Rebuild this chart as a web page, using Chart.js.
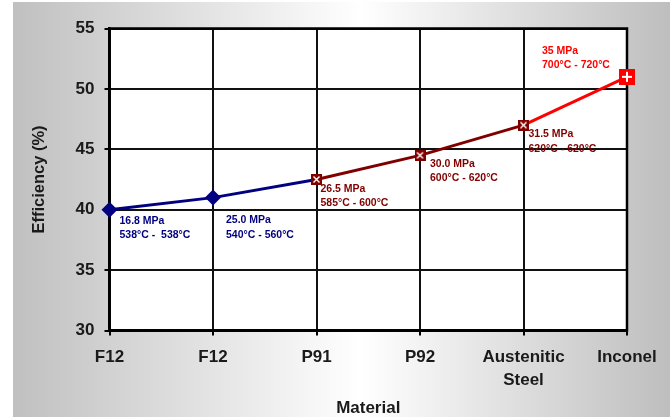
<!DOCTYPE html>
<html>
<head>
<meta charset="utf-8">
<script src="https://cdn.jsdelivr.net/npm/chart.js@4.4.1/dist/chart.umd.min.js"></script>
<style>
  html, body { margin: 0; padding: 0; background: #ffffff; }
  #wrap { width: 670px; height: 417px; }
  canvas { display: block; }
</style>
</head>
<body>
<div id="wrap"><canvas id="chart" width="670" height="417"></canvas></div>
<script>
// Steam conditions by boiler material
const categories = ['F12', 'F12', 'P91', 'P92', ['Austenitic', 'Steel'], 'Inconel'];
const efficiency = [40, 41, 42.5, 44.5, 47, 51];
const pressureLabels = ['16.8 MPa', '25.0 MPa', '26.5 MPa', '30.0 MPa', '31.5 MPa', '35 MPa'];
const temperatureLabels = ['538°C -  538°C', '540°C - 560°C', '585°C - 600°C', '600°C - 620°C', '620°C - 620°C', '700°C - 720°C'];
const yMin = 30;
const yMax = 55;
const yStep = 5;

// Styling
const NAVY = '#000080';
const MAROON = '#800000';
const RED = '#ff0000';
const pointColors = [NAVY, NAVY, MAROON, MAROON, MAROON, RED];
const segmentColors = [NAVY, NAVY, MAROON, MAROON, RED];
// annotation placement relative to each marker: [dx, dy line 1, dy line 2]
const labelOffsets = [[10, 11, 25.5], [13, 22.5, 37], [4, 9.5, 24], [10, 8.5, 22.5], [5, 8.5, 24], [-85, -25.5, -11.5]];

function squareCross(size, fill) {
  const c = document.createElement('canvas');
  c.width = size; c.height = size;
  const g = c.getContext('2d');
  g.fillStyle = fill;
  g.fillRect(0, 0, size, size);
  g.strokeStyle = '#ffffff';
  g.lineWidth = 1.4;
  const a = 2.5, b = size - 2.5;
  g.beginPath();
  g.moveTo(a, a); g.lineTo(b, b);
  g.moveTo(b, a); g.lineTo(a, b);
  g.stroke();
  return c;
}

function squarePlus(size, fill) {
  const c = document.createElement('canvas');
  c.width = size; c.height = size;
  const g = c.getContext('2d');
  g.fillStyle = fill;
  g.fillRect(0, 0, size, size);
  g.fillStyle = '#ffffff';
  const m = size / 2;
  g.fillRect(3, m - 1, size - 6, 2);
  g.fillRect(m - 1, 3, 2, size - 6);
  return c;
}

const crossMark = squareCross(11, MAROON);
const plusMark = squarePlus(16, RED);
const pointStyles = ['rectRot', 'rectRot', crossMark, crossMark, crossMark, plusMark];

const backdrop = {
  id: 'backdrop',
  beforeDraw(chart) {
    const { ctx, chartArea: a } = chart;
    ctx.save();
    ctx.fillStyle = '#ffffff';
    ctx.fillRect(0, 0, chart.width, chart.height);
    const grad = ctx.createLinearGradient(13, 0, 670, 0);
    grad.addColorStop(0, '#c0c0c0');
    grad.addColorStop(0.53, '#ffffff');
    grad.addColorStop(1, '#bebebe');
    ctx.fillStyle = grad;
    ctx.fillRect(13, 2, chart.width - 13, chart.height - 2);
    ctx.fillStyle = '#ffffff';
    ctx.fillRect(a.left, a.top, a.right - a.left, a.bottom - a.top);
    ctx.restore();
  },
  beforeDatasetsDraw(chart) {
    const { ctx, chartArea: a } = chart;
    ctx.save();
    ctx.strokeStyle = '#000000';
    ctx.lineWidth = 2.5;
    ctx.strokeRect(a.left, a.top, a.right - a.left, a.bottom - a.top);
    ctx.restore();
  }
};

const pointNotes = {
  id: 'pointNotes',
  afterDatasetsDraw(chart) {
    const { ctx } = chart;
    const pts = chart.getDatasetMeta(0).data;
    ctx.save();
    ctx.font = 'bold 10.5px "Liberation Sans", Arial, sans-serif';
    ctx.textBaseline = 'middle';
    ctx.textAlign = 'left';
    pts.forEach((p, i) => {
      const [dx, dy1, dy2] = labelOffsets[i];
      ctx.fillStyle = pointColors[i];
      ctx.fillText(pressureLabels[i], p.x + dx, p.y + dy1);
      ctx.fillText(temperatureLabels[i], p.x + dx, p.y + dy2);
    });
    ctx.restore();
  }
};

const tickFont = { family: '"Liberation Sans", Arial, sans-serif', size: 17, weight: 'bold' };

new Chart(document.getElementById('chart'), {
  type: 'line',
  data: {
    labels: categories,
    datasets: [{
      data: efficiency,
      borderWidth: 3,
      borderColor: NAVY,
      segment: { borderColor: ctx => segmentColors[ctx.p0DataIndex] },
      pointStyle: pointStyles,
      pointBackgroundColor: pointColors,
      pointBorderColor: pointColors,
      pointBorderWidth: 0,
      pointRadius: 8,
      pointHoverRadius: 8,
      tension: 0,
      clip: false
    }]
  },
  options: {
    responsive: false,
    animation: false,
    devicePixelRatio: 1,
    layout: { padding: { left: 14, right: 43, top: 28.5, bottom: 0 } },
    plugins: { legend: { display: false }, tooltip: { enabled: false } },
    scales: {
      x: {
        offset: false,
        grid: { color: '#111111', lineWidth: 2, tickLength: 5, tickColor: '#000000', drawTicks: true },
        border: { display: true, color: '#000000', width: 2.5 },
        ticks: { color: '#1a1a1a', font: { ...tickFont, lineHeight: 1.35 }, padding: 10, maxRotation: 0, autoSkip: false },
        title: { display: true, text: 'Material', color: '#1a1a1a', font: { ...tickFont, size: 17, lineHeight: 1 }, padding: { top: 0, bottom: 0 } },
        afterFit(s) { s.height = 86.5; }
      },
      y: {
        min: yMin,
        max: yMax,
        grid: { color: '#111111', lineWidth: 2, tickLength: 5, tickColor: '#000000', drawTicks: true },
        border: { display: true, color: '#000000', width: 2.5 },
        ticks: { stepSize: yStep, color: '#1a1a1a', font: tickFont, padding: 10 },
        title: { display: true, text: 'Efficiency (%)', color: '#1a1a1a', font: { ...tickFont, size: 16.5, lineHeight: 1 }, padding: { top: 17, bottom: 0 } },
        afterFit(s) { s.width = 95.5; }
      }
    }
  },
  plugins: [backdrop, pointNotes]
});
</script>
</body>
</html>
